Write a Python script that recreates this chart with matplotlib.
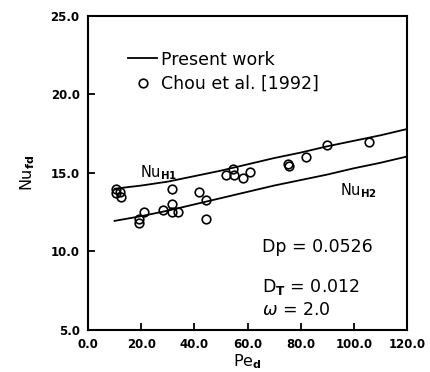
import matplotlib
matplotlib.use("Agg")
import matplotlib.pyplot as plt
from matplotlib.lines import Line2D

# measured points (Chou et al. 1992)
pe_exp = [10.5, 10.5, 12.0, 12.3, 19.2, 19.2, 21.1, 28.3, 31.5, 31.5, 31.5, 34.0,
          41.9, 44.3, 44.3, 51.8, 54.7, 54.9, 58.2, 60.9, 75.1, 75.6, 81.9, 89.8, 105.6]
nu_exp = [14.0, 13.75, 13.8, 13.5, 12.05, 11.8, 12.5, 12.65, 14.0, 13.05, 12.5, 12.5,
          13.8, 13.3, 12.05, 14.87, 15.23, 14.9, 14.7, 15.05, 15.55, 15.45, 16.04, 16.8, 17.0]

# present work curves
pe_curve = [10, 20, 30, 40, 50, 60, 70, 80, 90, 100, 110, 120]
nu_h1 = [14.0, 14.2, 14.45, 14.8, 15.15, 15.55, 15.95, 16.3, 16.7, 17.05, 17.4, 17.8]
nu_h2 = [11.95, 12.25, 12.6, 13.0, 13.4, 13.8, 14.2, 14.55, 14.9, 15.3, 15.65, 16.05]

x_ticks = [0, 20, 40, 60, 80, 100, 120]
y_ticks = [5, 10, 15, 20, 25]

plt.rcParams['font.family'] = 'DejaVu Sans'
plt.rcParams['mathtext.fontset'] = 'dejavusans'

fig = plt.figure(figsize=(4.3, 3.72), dpi=100)
ax = fig.add_axes([0.2047, 0.1129, 0.7418, 0.8441])

ax.plot(pe_curve, nu_h1, color='black', lw=1.3)
ax.plot(pe_curve, nu_h2, color='black', lw=1.3)
ax.plot(pe_exp, nu_exp, 'o', mfc='none', mec='black', ms=6.2, mew=1.2)

ax.set_xlim(0, 120)
ax.set_ylim(5, 25)
ax.set_xticks(x_ticks)
ax.set_yticks(y_ticks)
ax.set_xticklabels(['%.1f' % v for v in x_ticks], fontsize=8.5, fontweight='bold')
ax.set_yticklabels(['%.1f' % v for v in y_ticks], fontsize=8.5, fontweight='bold')
ax.tick_params(direction='in', length=5, width=1.3, pad=6)
for s in ax.spines.values():
    s.set_linewidth(1.5)

ax.set_xlabel(r'Pe$_{\mathbf{d}}$', fontsize=11.5, labelpad=1)
ax.set_ylabel(r'Nu$_{\mathbf{fd}}$', fontsize=11.5, labelpad=10)

ax.text(19.5, 14.75, r'Nu$_{\mathbf{H1}}$', fontsize=10.5)
ax.text(94.8, 13.6, r'Nu$_{\mathbf{H2}}$', fontsize=10.5)
ax.text(65.3, 10.3, 'Dp = 0.0526', fontsize=12.5, va='center')
ax.text(65.3, 7.76, r'D$_{\mathbf{T}}$ = 0.012', fontsize=12.5, va='center')
ax.text(65.3, 6.27, r'$\omega$ = 2.0', fontsize=12.5, va='center')

handles = [Line2D([], [], color='black', lw=1.3),
           Line2D([], [], ls='none', marker='o', mfc='none', mec='black', ms=6.2, mew=1.2)]
ax.legend(handles, ['Present work', 'Chou et al. [1992]'], loc='upper left',
          bbox_to_anchor=(0.125, 0.89), frameon=False, fontsize=12.5,
          borderpad=0, borderaxespad=0, handlelength=1.7, handletextpad=0.2,
          labelspacing=0.35)

fig.savefig('out.png', dpi=100)
